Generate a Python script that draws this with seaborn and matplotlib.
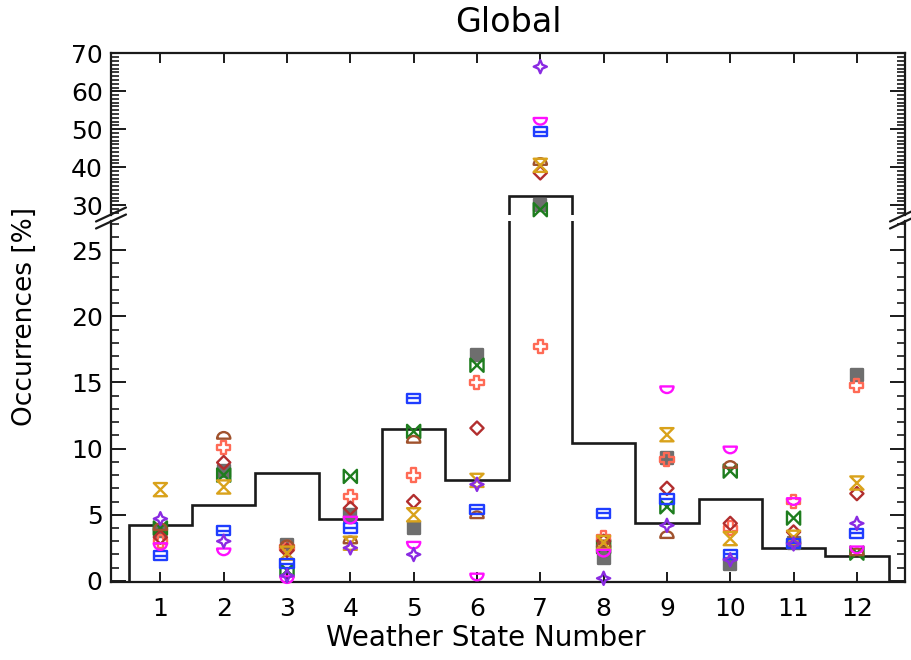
import numpy as np
import pandas as pd
import matplotlib
matplotlib.use("Agg")
import matplotlib.pyplot as plt
from matplotlib.path import Path
from matplotlib.lines import Line2D
from matplotlib.ticker import MultipleLocator
import seaborn as sns

# ---------------- data ----------------
weather_states = [1, 2, 3, 4, 5, 6, 7, 8, 9, 10, 11, 12]
observed = [4.2, 5.75, 8.15, 4.67, 11.5, 7.65, 32.4, 10.45, 4.35, 6.2, 2.5, 1.85]

model_grey = [3.8, 8.3, 2.7, 5.0, 4.0, 17.1, 30.0, 1.7, 9.3, 1.3, 2.9, 15.6]
model_green = [4.0, 8.0, 0.8, 7.9, 11.3, 16.3, 28.8, 2.6, 5.6, 8.3, 4.75, 2.1]
model_salmon = [3.0, 10.1, 2.5, 6.4, 8.0, 15.0, 17.7, 3.3, 9.2, 4.0, 6.0, 14.8]
model_darkred = [3.3, 8.95, 2.3, 5.5, 6.0, 11.55, 38.5, 3.0, 7.0, 4.35, 3.7, 6.6]
model_brown = [4.1, 11.0, 2.8, 3.1, 10.7, 5.0, 41.5, 2.8, 3.5, 8.8, 3.1, 2.2]
model_gold = [6.9, 7.1, 2.1, 2.85, 5.0, 7.6, 40.5, 2.9, 11.05, 3.2, 3.3, 7.4]
model_blue = [1.9, 3.8, 1.3, 4.0, 13.8, 5.4, 49.4, 5.1, 6.2, 2.0, 2.85, 3.6]
model_magenta = [2.6, 2.2, 0.1, 4.6, 2.7, 0.3, 52.1, 2.1, 14.45, 9.9, 6.0, 2.35]
model_purple = [4.7, 3.0, 0.4, 2.5, 2.0, 7.3, 66.5, 0.2, 4.2, 1.6, 2.8, 4.35]

tick_labels = [str(w) for w in weather_states]

# ---------------- marker shapes ----------------
def closed(verts):
    verts = list(verts) + [verts[0]]
    codes = [Path.MOVETO] + [Path.LINETO] * (len(verts) - 2) + [Path.CLOSEPOLY]
    return Path(verts, codes)

def half_disc(upper=True):
    arc = Path.arc(0, 180) if upper else Path.arc(180, 360)
    v = np.vstack([arc.vertices, arc.vertices[:1]])
    c = np.concatenate([arc.codes, [Path.CLOSEPOLY]])
    v = v.copy()
    v[:, 1] += -0.5 if upper else 0.5
    return Path(v, c)

def rect_line():
    v = [(-1, -0.7), (1, -0.7), (1, 0.7), (-1, 0.7), (-1, -0.7), (-1, 0.0), (1, 0.0)]
    c = [Path.MOVETO, Path.LINETO, Path.LINETO, Path.LINETO, Path.CLOSEPOLY,
         Path.MOVETO, Path.LINETO]
    return Path(v, c)

m_bowtie = closed([(-1, 1), (0, 0), (1, 1), (1, -1), (0, 0), (-1, -1)])
m_hourglass = closed([(-1, 1), (1, 1), (0, 0), (1, -1), (-1, -1), (0, 0)])
a = 0.38
m_plus = closed([(-a, 1), (a, 1), (a, a), (1, a), (1, -a), (a, -a), (a, -1), (-a, -1),
                 (-a, -a), (-1, -a), (-1, a), (-a, a)])
m_diamond = closed([(0, 1), (1, 0), (0, -1), (-1, 0)])
b = 0.3
m_star = closed([(0, 1), (b, b), (1, 0), (b, -b), (0, -1), (-b, -b), (-1, 0), (-b, b)])

models = [
    ("grey", model_grey, "#6e6e6e", "s", True),
    ("green", model_green, "#1e7d1e", m_bowtie, False),
    ("salmon", model_salmon, "#ff6a55", m_plus, False),
    ("darkred", model_darkred, "#b22e2e", m_diamond, False),
    ("brown", model_brown, "#a0522d", half_disc(True), False),
    ("gold", model_gold, "#d9a21b", m_hourglass, False),
    ("blue", model_blue, "#1f3dff", rect_line(), False),
    ("magenta", model_magenta, "#ff10ff", half_disc(False), False),
    ("purple", model_purple, "#8a2be2", m_star, False),
]

# ---------------- figure ----------------
sns.set_theme(style="white")
plt.rcParams["font.family"] = ["DejaVu Sans"]
plt.rcParams["text.color"] = "black"
plt.rcParams["xtick.color"] = "black"
plt.rcParams["ytick.color"] = "black"
plt.rcParams["xtick.labelcolor"] = "black"
plt.rcParams["ytick.labelcolor"] = "black"
W, H = 912, 660
fig = plt.figure(figsize=(W / 100, H / 100), dpi=100)

def fx(px):
    return px / W

def fy(py):
    return 1 - py / H

left, right = 111, 905
ax_top = fig.add_axes([fx(left), fy(215), fx(right - left), fy(53) - fy(215)])
ax_bot = fig.add_axes([fx(left), fy(582), fx(right - left), fy(221) - fy(582)])

LOW_TOP = 27.2
ax_top.set_ylim(27.4, 70.1)
ax_bot.set_ylim(-0.08, LOW_TOP)
for ax in (ax_top, ax_bot):
    ax.set_xlim(0.22, 12.76)

edges = np.arange(0.5, 13.0, 1.0)
for ax in (ax_top, ax_bot):
    ax.stairs(observed, edges, baseline=0, color="#1a1a1a", lw=1.9, zorder=2)

for name, vals, col, mk, filled in models:
    df = pd.DataFrame({"ws": weather_states, "val": vals})
    for ax, sub in ((ax_top, df[df.val >= LOW_TOP]), (ax_bot, df[df.val < LOW_TOP])):
        if len(sub) == 0:
            continue
        sns.scatterplot(data=sub, x="ws", y="val", ax=ax, marker=mk, s=80 if filled else 90,
                        color=col, facecolor=col if filled else "none", edgecolor=col,
                        linewidth=1.7, clip_on=False, zorder=3, legend=False)

spine_col = "#1a1a1a"
for ax in (ax_top, ax_bot):
    for s in ax.spines.values():
        s.set_color(spine_col)
        s.set_linewidth(1.6)
    ax.set_xlabel("")
    ax.set_ylabel("")
    ax.set_xticks(weather_states)

ax_top.spines["bottom"].set_visible(False)
ax_bot.spines["top"].set_visible(False)

ax_top.yaxis.set_major_locator(MultipleLocator(10))
ax_top.yaxis.set_minor_locator(MultipleLocator(1))
ax_bot.yaxis.set_major_locator(MultipleLocator(5))
ax_bot.yaxis.set_minor_locator(MultipleLocator(1))
ax_top.set_yticks([30, 40, 50, 60, 70])

ax_top.tick_params(axis="x", which="both", direction="in", top=True, bottom=False,
                   labeltop=False, labelbottom=False, length=7, width=1.4, color=spine_col)
ax_bot.tick_params(axis="x", which="both", direction="in", top=False, bottom=True,
                   labelbottom=True, length=7, width=1.4, color=spine_col,
                   labelsize=18, pad=11, labelcolor="black")
ax_bot.set_xticklabels(tick_labels)
for ax in (ax_top, ax_bot):
    ax.tick_params(axis="y", which="major", direction="in", left=True, right=True,
                   length=11, width=1.4, color=spine_col, labelsize=18, pad=6,
                   labelcolor="black")
    ax.tick_params(axis="y", which="minor", direction="in", left=True, right=True,
                   length=6, width=1.2, color=spine_col)
    ax.tick_params(axis="x", which="minor", bottom=False, top=False)

# break marks
for cx in (left, right):
    for off in (-3.5, 3.5):
        cy = 218 + off
        fig.add_artist(Line2D([fx(cx - 15), fx(cx + 15)], [fy(cy + 7), fy(cy - 7)],
                              color=spine_col, lw=1.6))

fig.text(fx(508), fy(22), "Global", ha="center", va="center", fontsize=24, color="black")
fig.text(fx(486), fy(638), "Weather State Number", ha="center", va="center", fontsize=20,
         color="black")
fig.text(fx(25), fy(316), "Occurrences [%]", ha="center", va="center", rotation=90,
         fontsize=19, color="black")

fig.savefig("out.png", dpi=100)
